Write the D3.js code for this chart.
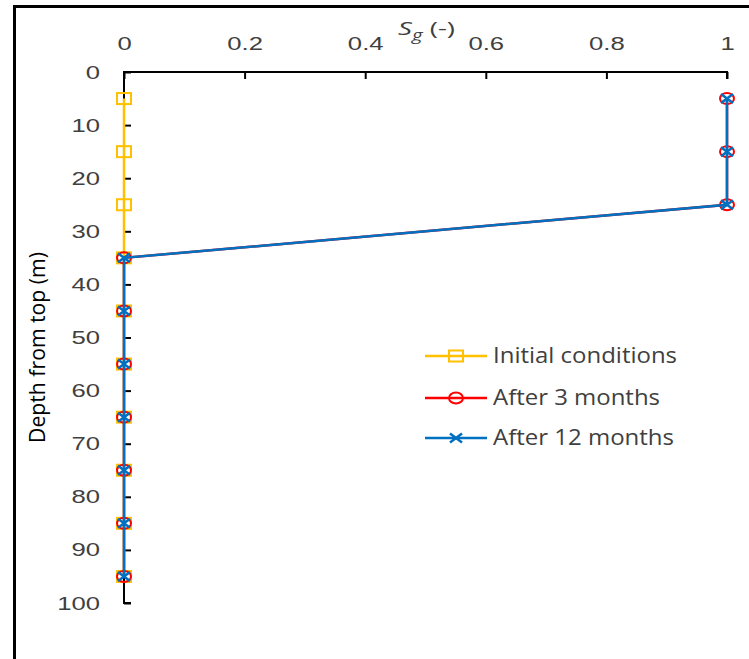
<!DOCTYPE html>
<html>
<head>
<meta charset="utf-8">
<script src="https://cdn.jsdelivr.net/npm/d3@7"></script>
<style>
  html, body { margin: 0; padding: 0; background: #fff; }
  svg { display: block; font-family: "Open Sans", "Liberation Sans", sans-serif; }
</style>
</head>
<body>
<svg id="chart" width="749" height="659"></svg>
<script>
// Gas saturation profiles with depth
const depths = [5, 15, 25, 35, 45, 55, 65, 75, 85, 95];
const initialSg = [0, 0, 0, 0, 0, 0, 0, 0, 0, 0];
const after3Sg = [1, 1, 1, 0, 0, 0, 0, 0, 0, 0];
const after12Sg = [1, 1, 1, 0, 0, 0, 0, 0, 0, 0];
const xTicks = [0, 0.2, 0.4, 0.6, 0.8, 1];
const yTicks = [0, 10, 20, 30, 40, 50, 60, 70, 80, 90, 100];
const seriesNames = ["Initial conditions", "After 3 months", "After 12 months"];
const seriesColors = ["#FFC000", "#FF0000", "#0070C0"];
const seriesMarkers = ["square", "circle", "cross"];

const svg = d3.select("#chart");
const textColor = "#404040";

// widen glyphs horizontally by factor k
function widen(sel, k) {
  sel.each(function () {
    const w = this.getComputedTextLength();
    d3.select(this).attr("textLength", w * k).attr("lengthAdjust", "spacingAndGlyphs");
  });
}

// outer frame
svg.append("rect")
  .attr("x", 14.5).attr("y", 6.5)
  .attr("width", 760).attr("height", 680)
  .attr("fill", "none").attr("stroke", "#000").attr("stroke-width", 3);

const x = d3.scaleLinear().domain([0, 1]).range([124, 727]);
const y = d3.scaleLinear().domain([0, 100]).range([72, 603]);

// top x axis, ticks pointing into the plot
const xAxis = svg.append("g").attr("transform", `translate(0,${y(0)})`)
  .call(d3.axisBottom(x).tickValues(xTicks).tickSize(7).tickFormat(d => d3.format("")(d)));
xAxis.select(".domain").attr("d", `M${x(0)},0H${x(1)}V7`).attr("stroke", "#000").attr("stroke-width", 2);
xAxis.selectAll(".tick line").attr("stroke", "#000").attr("stroke-width", 2);
xAxis.selectAll(".tick text")
  .attr("y", -29).attr("dy", "0.35em")
  .attr("fill", textColor).attr("font-size", 19);
widen(xAxis.selectAll(".tick text"), 1.35);

// left y axis, ticks pointing into the plot
const yAxis = svg.append("g").attr("transform", `translate(${x(0)},0)`)
  .call(d3.axisRight(y).tickValues(yTicks).tickSize(7));
yAxis.select(".domain").attr("d", `M7,${y(0)}H0V${y(100)}H7`).attr("stroke", "#000").attr("stroke-width", 2);
yAxis.selectAll(".tick line").attr("stroke", "#000").attr("stroke-width", 2);
yAxis.selectAll(".tick text")
  .attr("x", -24).attr("text-anchor", "end")
  .attr("fill", textColor).attr("font-size", 19);
widen(yAxis.selectAll(".tick text"), 1.35);

// axis titles
const xt = svg.append("text").attr("x", 398).attr("y", 35)
  .attr("fill", textColor).attr("font-size", 19);
xt.append("tspan").attr("font-style", "italic").text("S");
xt.append("tspan").attr("font-style", "italic").attr("font-size", 14).attr("dy", 5).text("g");
xt.append("tspan").attr("dy", -5).text(" (-)");
xt.attr("textLength", 57).attr("lengthAdjust", "spacingAndGlyphs");

svg.append("text")
  .attr("transform", `translate(45,347.5) rotate(-90)`)
  .attr("text-anchor", "middle")
  .attr("fill", "#000").attr("font-size", 22)
  .attr("textLength", 191).attr("lengthAdjust", "spacingAndGlyphs")
  .text("Depth from top (m)");

// marker drawing (markers are slightly wider than tall)
function drawMarker(g, type, color, cx, cy) {
  if (type === "square") {
    g.append("rect").attr("x", cx - 7).attr("y", cy - 5.5).attr("width", 14).attr("height", 11)
      .attr("fill", "none").attr("stroke", color).attr("stroke-width", 2);
  } else if (type === "circle") {
    g.append("ellipse").attr("cx", cx).attr("cy", cy).attr("rx", 7).attr("ry", 5.5)
      .attr("fill", "none").attr("stroke", color).attr("stroke-width", 2);
  } else {
    g.append("path").attr("d", `M${cx - 6},${cy - 4.5}L${cx + 6},${cy + 4.5}M${cx - 6},${cy + 4.5}L${cx + 6},${cy - 4.5}`)
      .attr("stroke", color).attr("stroke-width", 2.5).attr("fill", "none");
  }
}

const allSeries = [initialSg, after3Sg, after12Sg];
const line = d3.line().x(d => x(d[0])).y(d => y(d[1]));

allSeries.forEach((vals, i) => {
  const pts = vals.map((v, j) => [v, depths[j]]);
  const g = svg.append("g");
  g.append("path").attr("d", line(pts))
    .attr("fill", "none").attr("stroke", seriesColors[i]).attr("stroke-width", 2.5);
  pts.forEach(p => drawMarker(g, seriesMarkers[i], seriesColors[i], x(p[0]), y(p[1])));
});

// legend
const legendY = [356, 398, 438];
const legendWidths = [184, 167, 181];
seriesNames.forEach((name, i) => {
  const g = svg.append("g");
  g.append("line").attr("x1", 425).attr("x2", 487).attr("y1", legendY[i]).attr("y2", legendY[i])
    .attr("stroke", seriesColors[i]).attr("stroke-width", 2.5);
  drawMarker(g, seriesMarkers[i], seriesColors[i], 456, legendY[i]);
  g.append("text").attr("x", 493).attr("y", legendY[i]).attr("dy", "0.35em")
    .attr("fill", textColor).attr("font-size", 21)
    .attr("textLength", legendWidths[i]).attr("lengthAdjust", "spacingAndGlyphs")
    .text(name);
});
</script>
</body>
</html>
